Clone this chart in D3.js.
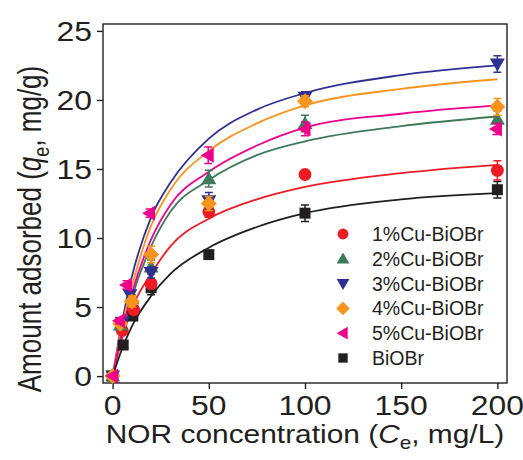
<!DOCTYPE html>
<html>
<head>
<meta charset="utf-8">
<script src="https://cdn.jsdelivr.net/npm/d3@7"></script>
<style>
  body { margin: 0; background: #fff; }
  svg text { font-family: "Liberation Sans", Arial, Helvetica, sans-serif; fill: #231f20; }
</style>
</head>
<body>
<svg id="chart" width="523" height="460"></svg>
<script>
// ---- data ----
var seriesNames = ['1%Cu-BiOBr', '2%Cu-BiOBr', '3%Cu-BiOBr', '4%Cu-BiOBr', '5%Cu-BiOBr', 'BiOBr'];
var seriesColors = ['#ed1c24', '#3f7a5a', '#2e3192', '#f7941d', '#ec008c', '#231f20'];
var seriesShapes = ['circle', 'triUp', 'triDown', 'diamond', 'triLeft', 'square'];

// measured points (Ce, qe, error)
var ceCu1 = [0, 5, 11, 20, 50, 100, 200];
var qeCu1 = [0, 3.3, 4.8, 6.7, 11.9, 14.6, 14.9];
var erCu1 = [0, 0.2, 0.3, 0.3, 0.4, 0, 0.7];

var ceCu2 = [0, 4, 10, 20, 50, 100, 200];
var qeCu2 = [0, 3.7, 5.6, 7.9, 14.3, 18.3, 18.6];
var erCu2 = [0, 0.2, 0.3, 0.5, 0.6, 0.6, 0.6];

var ceCu3 = [0, 5, 9, 20, 50, 100, 200];
var qeCu3 = [0, 3.9, 5.9, 7.5, 12.7, 20.2, 22.6];
var erCu3 = [0, 0.2, 0.3, 0.4, 0.6, 0.4, 0.6];

var ceCu4 = [0, 4, 10, 20, 50, 100, 200];
var qeCu4 = [0, 3.8, 5.4, 8.8, 12.5, 19.9, 19.5];
var erCu4 = [0, 0.2, 0.4, 0.6, 0.5, 0.4, 0.6];

var ceCu5 = [0, 3.5, 7.2, 19.2, 49.7, 100, 199.5];
var qeCu5 = [0, 4.0, 6.6, 11.8, 16.0, 17.9, 17.9];
var erCu5 = [0, 0.2, 0.3, 0.3, 0.6, 0.5, 0.4];

var ceBi = [0, 5.5, 10.5, 20, 50, 100, 200];
var qeBi = [0, 2.25, 4.35, 6.4, 8.8, 11.8, 13.5];
var erBi = [0, 0, 0.3, 0.5, 0, 0.6, 0.6];

// fitted isotherm curves
var fitCe = [0, 5, 10, 20, 30, 50, 75, 100, 150, 200];
var fitCu1 = [0, 2.8, 4.9, 7.4, 9.4, 11.4, 12.8, 13.7, 14.7, 15.3];
var fitCu2 = [0, 3.2, 5.7, 9.4, 11.9, 14.2, 16.0, 17.0, 18.1, 18.8];
var fitCu3 = [0, 4.0, 7.2, 11.5, 14.0, 17.2, 19.3, 20.5, 21.8, 22.5];
var fitCu4 = [0, 3.7, 6.5, 10.9, 13.5, 16.3, 18.3, 19.6, 20.8, 21.5];
var fitCu5 = [0, 3.3, 6.0, 9.9, 12.4, 14.8, 16.7, 18.0, 19.0, 19.6];
var fitBi  = [0, 2.0, 3.6, 5.8, 7.4, 9.3, 10.8, 11.8, 12.8, 13.25];

var xTicks = [0, 50, 100, 150, 200];
var yTicks = [0, 5, 10, 15, 20, 25];

var pts = [[ceCu1, qeCu1, erCu1], [ceCu2, qeCu2, erCu2], [ceCu3, qeCu3, erCu3],
           [ceCu4, qeCu4, erCu4], [ceCu5, qeCu5, erCu5], [ceBi, qeBi, erBi]];
var fits = [fitCu1, fitCu2, fitCu3, fitCu4, fitCu5, fitBi];

// ---- layout ----
var svg = d3.select('#chart');
var m = {left: 103, right: 507, top: 24, bottom: 383};
var sx = 1.18;   // the figure's text is a little wider than tall

var x = d3.scaleLinear().domain([-5, 205]).range([m.left, m.right]);
var y = d3.scaleLinear().domain([-0.5, 25.5]).range([m.bottom, m.top]);

// frame
svg.append('rect')
    .attr('x', m.left).attr('y', m.top)
    .attr('width', m.right - m.left).attr('height', m.bottom - m.top)
    .attr('fill', 'none').attr('stroke', '#231f20').attr('stroke-width', 1.4);

// axes with outward ticks
var xAxis = svg.append('g')
    .attr('transform', 'translate(0,' + m.bottom + ')')
    .call(d3.axisBottom(x).tickValues(xTicks).tickSize(6).tickFormat(''));
var yAxis = svg.append('g')
    .attr('transform', 'translate(' + m.left + ',0)')
    .call(d3.axisLeft(y).tickValues(yTicks).tickSize(6).tickFormat(''));
[xAxis, yAxis].forEach(function(a) {
    a.select('.domain').remove();
    a.selectAll('line').attr('stroke', '#231f20').attr('stroke-width', 1.4);
});

// tick labels
xTicks.forEach(function(t) {
    svg.append('text')
        .attr('transform', 'translate(' + x(t) + ',415) scale(' + sx + ',1)')
        .attr('text-anchor', 'middle')
        .attr('font-size', 27)
        .text(t);
});
yTicks.forEach(function(t) {
    svg.append('text')
        .attr('transform', 'translate(92,' + (y(t) + 9.8) + ') scale(' + sx + ',1)')
        .attr('text-anchor', 'end')
        .attr('font-size', 27)
        .text(t);
});

// axis titles
var xt = svg.append('text')
    .attr('transform', 'translate(305,443) scale(1.15,1)')
    .attr('text-anchor', 'middle')
    .attr('font-size', 26);
xt.append('tspan').text('NOR concentration (');
xt.append('tspan').attr('font-style', 'italic').text('C');
xt.append('tspan').attr('font-size', 18).attr('dy', 6).text('e');
xt.append('tspan').attr('dy', -6).text(', mg/L)');

var yt = svg.append('text')
    .attr('transform', 'translate(41,229) scale(1.25,1) rotate(-90)')
    .attr('text-anchor', 'middle')
    .attr('font-size', 26);
yt.append('tspan').text('Amount adsorbed (');
yt.append('tspan').attr('font-style', 'italic').text('q');
yt.append('tspan').attr('font-size', 18).attr('dy', 6).text('e');
yt.append('tspan').attr('dy', -6).text(', mg/g)');

// marker shapes
function shapePath(kind) {
    if (kind === 'circle') return d3.symbol().type(d3.symbolCircle).size(130)();
    if (kind === 'square') return 'M-5.5,-5.5H5.5V5.5H-5.5Z';
    if (kind === 'diamond') return 'M0,-8L8,0L0,8L-8,0Z';
    if (kind === 'triUp') return 'M0,-7.5L7.5,5.5L-7.5,5.5Z';
    if (kind === 'triDown') return 'M0,7.5L7.5,-5.5L-7.5,-5.5Z';
    if (kind === 'triLeft') return 'M-7.5,0L5.5,-7.5L5.5,7.5Z';
}

// fitted curves
var line = d3.line().curve(d3.curveMonotoneX)
    .x(function(d) { return x(d[0]); })
    .y(function(d) { return y(d[1]); });
fits.forEach(function(f, i) {
    svg.append('path')
        .datum(fitCe.map(function(c, k) { return [c, f[k]]; }))
        .attr('d', line)
        .attr('fill', 'none')
        .attr('stroke', seriesColors[i])
        .attr('stroke-width', 1.8);
});

// points + error bars; drawing order so overlaps look like the figure
var drawOrder = [5, 0, 1, 2, 3, 4];
drawOrder.forEach(function(i) {
    var ce = pts[i][0], qe = pts[i][1], er = pts[i][2];
    var g = svg.append('g').attr('fill', seriesColors[i]).attr('stroke', seriesColors[i]);
    ce.forEach(function(c, k) {
        if (er[k] > 0) {
            var x0 = x(c), y1 = y(qe[k] + er[k]), y2 = y(qe[k] - er[k]);
            g.append('path')
                .attr('d', 'M' + x0 + ',' + y1 + 'V' + y2 +
                           'M' + (x0 - 4) + ',' + y1 + 'H' + (x0 + 4) +
                           'M' + (x0 - 4) + ',' + y2 + 'H' + (x0 + 4))
                .attr('fill', 'none').attr('stroke-width', 1.5);
        }
        g.append('path')
            .attr('d', shapePath(seriesShapes[i]))
            .attr('transform', 'translate(' + x(c) + ',' + y(qe[k]) + ')')
            .attr('stroke', 'none');
    });
});

// legend
var legend = svg.append('g');
seriesNames.forEach(function(name, i) {
    var ly = 234 + i * 24.8;
    legend.append('path')
        .attr('d', shapePath(seriesShapes[i]))
        .attr('transform', 'translate(343,' + ly + ') scale(0.85)')
        .attr('fill', seriesColors[i]);
    legend.append('text')
        .attr('x', 372).attr('y', ly + 7)
        .attr('font-size', 19.5)
        .text(name);
});
</script>
</body>
</html>
